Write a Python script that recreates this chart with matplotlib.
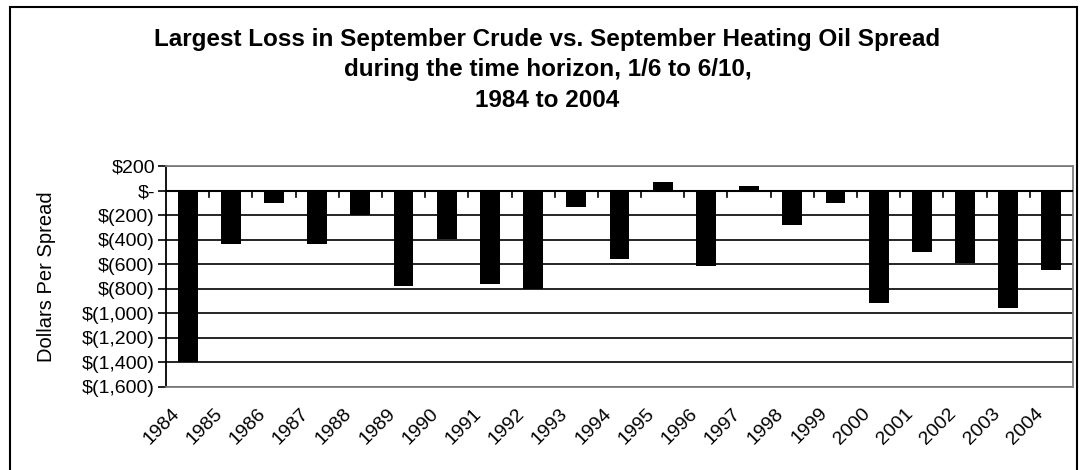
import matplotlib
matplotlib.use('Agg')
from matplotlib import pyplot as plt
from matplotlib.patches import Rectangle
import matplotlib.transforms as mtransforms
import numpy as np

plt.rcParams['font.family'] = ['Liberation Sans', 'DejaVu Sans']

years = [str(y) for y in range(1984, 2005)]
losses = [-1400, -440, -100, -440, -200, -775, -395, -765, -800, -135,
          -560, 70, -615, 35, -280, -105, -920, -500, -595, -955, -650]

yticks = [200, 0, -200, -400, -600, -800, -1000, -1200, -1400, -1600]

title_lines = ['Largest Loss in September Crude vs. September Heating Oil Spread',
               'during the time horizon, 1/6 to 6/10,',
               '1984 to 2004']

def money(v):
    if v == 0:
        return '$-'
    if v > 0:
        return '${:,}'.format(v)
    return '$({:,})'.format(-v)

fig = plt.figure(figsize=(10.8, 4.7), dpi=100)
ax = fig.add_axes([0.1537, 0.1772, 0.8398, 0.4696])

x = np.arange(len(years))
ax.bar(x, losses, width=0.46, color='black', zorder=3)

ax.set_xlim(-0.5, len(years) - 0.5)
ax.set_ylim(-1600, 200)
ax.set_yticks(yticks)
ax.set_yticklabels([money(v) for v in yticks], fontsize=14)
ax.yaxis.grid(True, color='black', linewidth=1.2, zorder=1)
ax.tick_params(axis='y', length=6, width=1.2, color='black', pad=2)
ax.axhline(0, color='black', linewidth=1.5, zorder=4)

# category boundary ticks hanging below the zero line
for b in np.arange(0.5, len(years) - 0.5, 1.0):
    ax.plot([b, b], [0, -55], color='black', linewidth=1.2, zorder=4)

ax.set_xticks(x)
ax.set_xticklabels(years, rotation=45, ha='right', rotation_mode='anchor', fontsize=14)
ax.tick_params(axis='x', length=0, pad=13)
shift = mtransforms.ScaledTranslation(-0.17, 0, fig.dpi_scale_trans)
for lbl in ax.get_xticklabels():
    lbl.set_transform(lbl.get_transform() + shift)

for sp in ax.spines.values():
    sp.set_color('#808080')
    sp.set_linewidth(1.3)
ax.spines['left'].set_color('black')

ax.set_ylabel('Dollars Per Spread', fontsize=14.5)
ax.yaxis.set_label_coords(-0.121, 0.5)

for line, yb in zip(title_lines, [46, 76, 107]):
    fig.text(0.507, 1 - yb / 470, line, ha='center', va='baseline',
             fontsize=17.5, fontweight='bold')

fig.patches.append(Rectangle((0.009, -0.05), 0.988, 1.035, transform=fig.transFigure,
                             fill=False, edgecolor='black', linewidth=1.5))

fig.savefig('out.png', dpi=100)
